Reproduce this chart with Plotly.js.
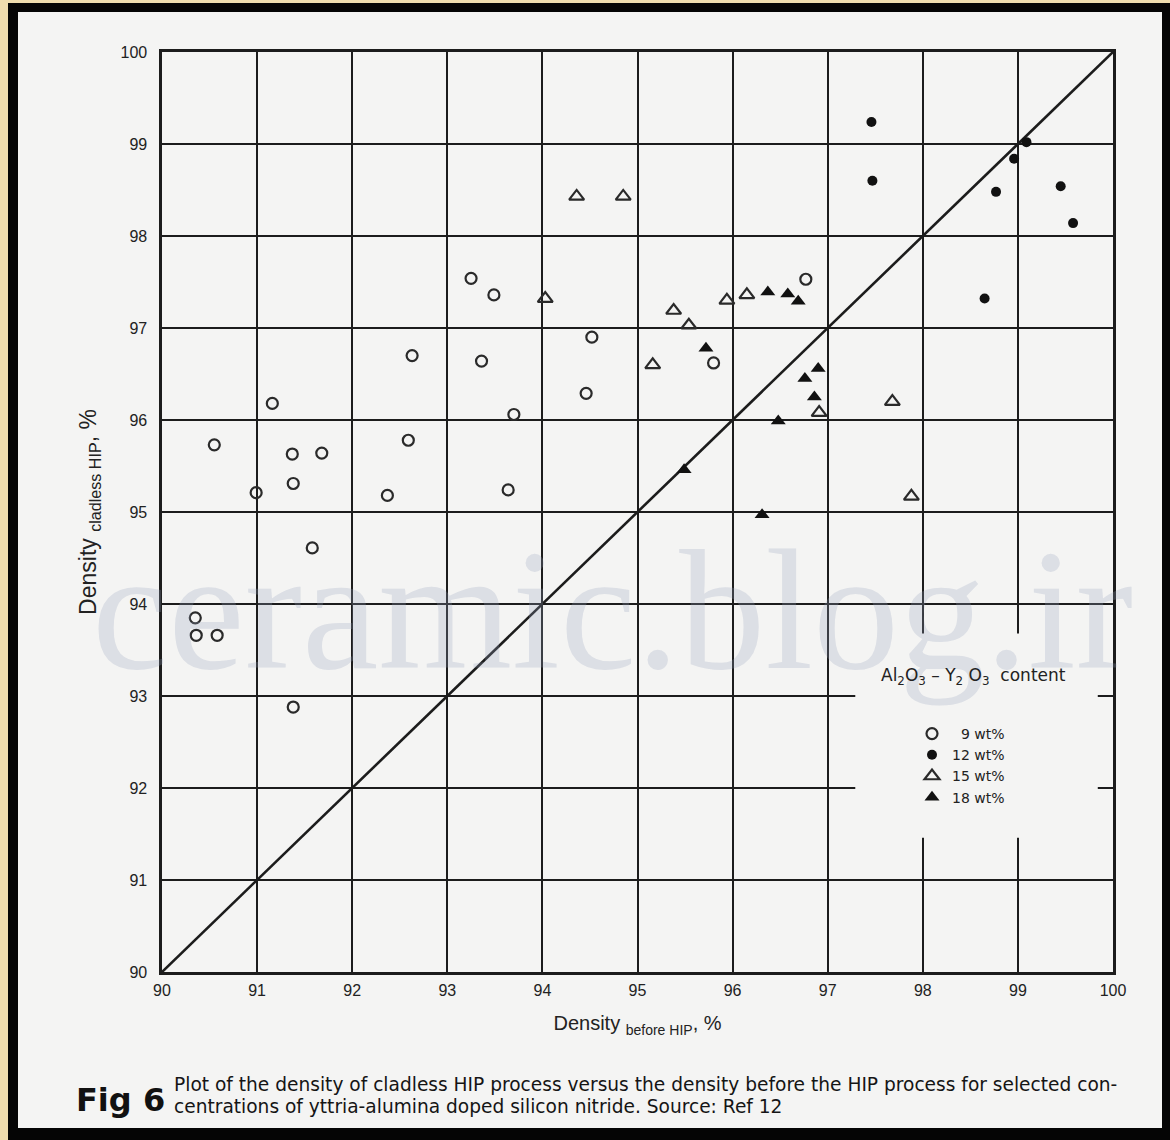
<!DOCTYPE html>
<html>
<head>
<meta charset="utf-8">
<script src="https://cdn.plot.ly/plotly-3.0.1.min.js"></script>
<style>
  html, body { margin: 0; padding: 0; background: #efdcae; }
  #chart { width: 1170px; height: 1140px; }
</style>
</head>
<body>
<div id="chart"></div>
<script>
// ---- data ----
const axisRange = [90, 100];
const tickValues = [90, 91, 92, 93, 94, 95, 96, 97, 98, 99, 100];
const tickLabels = ["90", "91", "92", "93", "94", "95", "96", "97", "98", "99", "100"];

const seriesNames = ["\u20079 wt%", "12 wt%", "15 wt%", "18 wt%"];

// 9 wt% (open circles)
const x9 = [90.35, 90.36, 90.58, 90.55, 90.99, 91.16, 91.37, 91.68, 91.38, 91.58, 91.38,
            92.59, 92.37, 92.63, 93.25, 93.49, 94.52, 93.36, 94.46, 93.70, 93.64, 95.80, 96.77];
const y9 = [93.85, 93.66, 93.66, 95.73, 95.21, 96.18, 95.63, 95.64, 95.31, 94.61, 92.88,
            95.78, 95.18, 96.70, 97.54, 97.36, 96.90, 96.64, 96.29, 96.06, 95.24, 96.62, 97.53];

// 12 wt% (filled circles)
const x12 = [97.46, 97.47, 99.09, 98.96, 98.77, 99.45, 99.58, 98.65];
const y12 = [99.24, 98.60, 99.02, 98.84, 98.48, 98.54, 98.14, 97.32];

// 15 wt% (open triangles)
const x15 = [94.36, 94.85, 94.03, 95.38, 95.54, 95.16, 95.94, 96.15, 96.91, 97.68, 97.88];
const y15 = [98.43, 98.43, 97.32, 97.19, 97.03, 96.60, 97.30, 97.36, 96.08, 96.20, 95.17];

// 18 wt% (filled triangles)
const x18 = [95.72, 96.37, 96.58, 96.69, 96.90, 96.76, 96.86, 96.48, 95.49, 96.31];
const y18 = [96.78, 97.39, 97.37, 97.29, 96.56, 96.45, 96.25, 95.99, 95.46, 94.97];

// ---- layout helpers ----
const W = 1170, H = 1140;
const M = {l: 162, r: 57, t: 52, b: 168};
const PW = W - M.l - M.r, PH = H - M.t - M.b;
const px2x = p => (p - M.l) / PW;
const py2y = p => 1 - (p - M.t) / PH;

const ink = '#1c1c1c';
const textInk = '#222222';
const paperTone = '#f4f4f3';
const sans = 'Liberation Sans, Arial, sans-serif';
const wide = 'DejaVu Sans, Verdana, sans-serif';

const traces = [
  { // 1:1 reference line
    x: axisRange, y: axisRange, mode: 'lines', showlegend: false, hoverinfo: 'skip',
    line: {color: ink, width: 2.6}
  },
  { x: x9, y: y9, name: seriesNames[0], mode: 'markers', type: 'scatter',
    marker: {symbol: 'circle-open', size: 11, color: '#2a2a2a', line: {width: 2.2, color: '#2a2a2a'}} },
  { x: x12, y: y12, name: seriesNames[1], mode: 'markers', type: 'scatter',
    marker: {symbol: 'circle', size: 10, color: '#111111'} },
  { x: x15, y: y15, name: seriesNames[2], mode: 'markers', type: 'scatter',
    marker: {symbol: 'triangle-up-open', size: 13, color: '#2a2a2a', line: {width: 2.2, color: '#2a2a2a'}} },
  { x: x18, y: y18, name: seriesNames[3], mode: 'markers', type: 'scatter',
    marker: {symbol: 'triangle-up', size: 13, color: '#111111'} }
];

const axisFont = {family: sans, size: 16, color: textInk};

const layout = {
  width: W, height: H,
  margin: M,
  paper_bgcolor: '#efdcae',
  plot_bgcolor: 'rgba(0,0,0,0)',
  showlegend: true,
  xaxis: {
    range: axisRange, tickvals: tickValues, ticktext: tickLabels,
    showgrid: true, gridcolor: ink, gridwidth: 2,
    showline: true, linecolor: ink, linewidth: 2.6, mirror: true,
    zeroline: false, ticks: '', ticklabelstandoff: 2,
    tickfont: axisFont,
    title: {text: 'Density <sub>before HIP</sub>, %', font: {family: sans, size: 20, color: textInk}, standoff: 19}
  },
  yaxis: {
    range: axisRange, tickvals: tickValues, ticktext: tickLabels,
    showgrid: true, gridcolor: ink, gridwidth: 2,
    showline: true, linecolor: ink, linewidth: 2.6, mirror: true,
    zeroline: false, ticks: '', ticklabelstandoff: 9,
    tickfont: axisFont,
    title: {text: 'Density <sub>cladless HIP</sub>, %', font: {family: sans, size: 23, color: textInk}, standoff: 18}
  },
  legend: {
    x: px2x(912), y: py2y(718), xanchor: 'left', yanchor: 'top',
    bgcolor: 'rgba(0,0,0,0)', borderwidth: 0,
    font: {family: wide, size: 14, color: textInk},
    itemwidth: 30, tracegroupgap: 0
  },
  shapes: [
    {type: 'rect', xref: 'paper', yref: 'paper', layer: 'below',
     x0: px2x(8), x1: px2x(1172), y0: py2y(1142), y1: py2y(3),
     fillcolor: '#050505', line: {width: 0}},
    {type: 'rect', xref: 'paper', yref: 'paper', layer: 'below',
     x0: px2x(18), x1: px2x(1162), y0: py2y(1128), y1: py2y(12),
     fillcolor: paperTone, line: {width: 0}},
    // blank area behind the key, which interrupts the grid
    {type: 'rect', xref: 'x', yref: 'y', layer: 'above',
     x0: 97.29, x1: 99.84, y0: 91.46, y1: 93.68,
     fillcolor: paperTone, line: {width: 0}}
  ],
  annotations: [
    {text: 'ceramic.blog.ir', xref: 'paper', yref: 'paper',
     x: px2x(612), y: py2y(610), xanchor: 'center', yanchor: 'middle', showarrow: false,
     font: {family: 'Liberation Serif, Times New Roman, serif', size: 172, color: 'rgba(150,162,188,0.26)'}},
    {text: 'Al<sub>2</sub>O<sub>3</sub> \u2013 Y<sub>2</sub> O<sub>3</sub>  content', xref: 'paper', yref: 'paper',
     x: px2x(973), y: py2y(676), xanchor: 'center', yanchor: 'middle', showarrow: false,
     font: {family: wide, size: 17, color: textInk}},
    {text: '<b>Fig 6</b>', xref: 'paper', yref: 'paper',
     x: px2x(74), y: py2y(1100), xanchor: 'left', yanchor: 'middle', showarrow: false,
     font: {family: wide, size: 32, color: '#111111'}},
    {text: 'Plot of the density of cladless HIP process versus the density before the HIP process for selected con-',
     xref: 'paper', yref: 'paper', x: px2x(172), y: py2y(1084), xanchor: 'left', yanchor: 'middle', showarrow: false,
     font: {family: wide, size: 18.6, color: '#151515'}},
    {text: 'centrations of yttria-alumina doped silicon nitride. Source: Ref 12',
     xref: 'paper', yref: 'paper', x: px2x(172), y: py2y(1106), xanchor: 'left', yanchor: 'middle', showarrow: false,
     font: {family: wide, size: 18.6, color: '#151515'}}
  ]
};

Plotly.newPlot('chart', traces, layout, {displayModeBar: false, staticPlot: true});
</script>
</body>
</html>
